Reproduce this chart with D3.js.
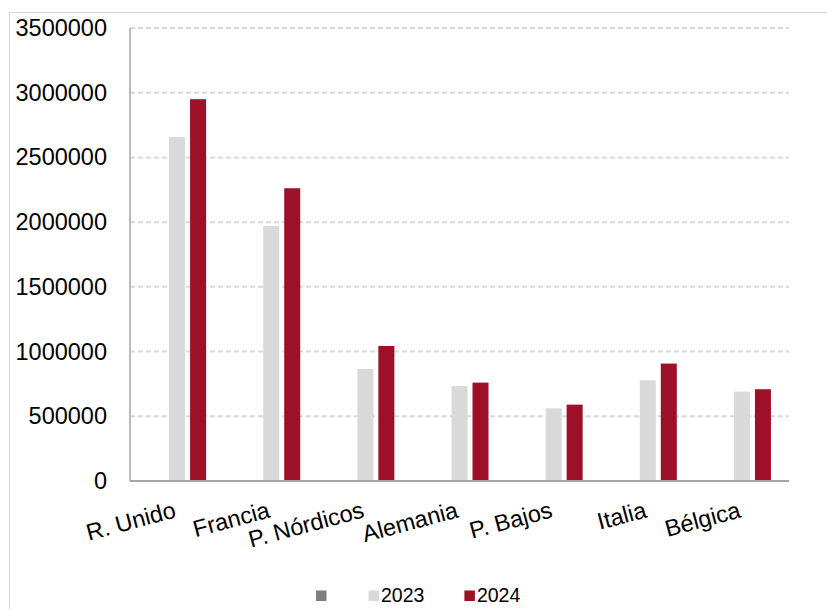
<!DOCTYPE html>
<html>
<head>
<meta charset="utf-8">
<script src="https://cdn.jsdelivr.net/npm/d3@7"></script>
<style>
  body { margin: 0; background: #fff; }
  text { font-family: "Liberation Sans", Arial, sans-serif; fill: #000; }
</style>
</head>
<body>
<div id="root"></div>
<script>
var categories = ['R. Unido', 'Francia', 'P. Nórdicos', 'Alemania', 'P. Bajos', 'Italia', 'Bélgica'];
var seriesNames = ['', '2023', '2024'];
var valuesBlank = [0, 0, 0, 0, 0, 0, 0];
var values2023 = [2658000, 1970000, 866000, 734000, 562000, 778000, 690000];
var values2024 = [2950000, 2262000, 1043000, 760000, 590000, 907000, 709000];
var yTicks = [0, 500000, 1000000, 1500000, 2000000, 2500000, 3000000, 3500000];
var colors = ['#7f7f7f', '#d9d9d9', '#9e1027'];

var width = 827;
var height = 609;
// plot area (note: "top" is reserved on window, so use prefixed names)
var plotLeft = 130, plotRight = 789, plotTop = 28, plotBottom = 481;

var svg = d3.select('#root')
  .append('svg')
    .attr('width', width)
    .attr('height', height);

// chart frame
svg.append('rect')
  .attr('x', 9.5)
  .attr('y', 12.5)
  .attr('width', 840)
  .attr('height', 640)
  .attr('fill', 'none')
  .attr('stroke', '#d9d9d9')
  .attr('stroke-width', 1);

var x = d3.scaleBand()
  .domain(categories)
  .range([plotLeft, plotRight]);

var xInner = d3.scaleBand()
  .domain(seriesNames)
  .range([0, x.bandwidth()])
  .paddingInner(0.238)
  .paddingOuter(0.86);

var y = d3.scaleLinear()
  .domain([0, 3500000])
  .range([plotBottom, plotTop]);

// dashed gridlines
svg.append('g')
  .selectAll('line')
  .data(yTicks.slice(1))
  .enter()
  .append('line')
    .attr('x1', plotLeft)
    .attr('x2', plotRight)
    .attr('y1', function(d) { return y(d); })
    .attr('y2', function(d) { return y(d); })
    .attr('stroke', '#d9d9d9')
    .attr('stroke-width', 2)
    .attr('stroke-dasharray', '5,3');

// y tick labels
var yAxis = svg.append('g')
  .attr('transform', 'translate(' + plotLeft + ',0)')
  .call(d3.axisLeft(y).tickValues(yTicks).tickSize(0).tickPadding(23)
    .tickFormat(function(d) { return String(d); }));
yAxis.select('.domain').remove();
yAxis.selectAll('text')
  .attr('font-size', '23.5px')
  .attr('font-family', '"Liberation Sans", Arial, sans-serif')
  .attr('fill', '#000');

// bars
var seriesData = [valuesBlank, values2023, values2024];
var bars = [];
seriesData.forEach(function(vals, s) {
  vals.forEach(function(v, i) {
    bars.push({ cat: categories[i], series: seriesNames[s], value: v, color: colors[s] });
  });
});

svg.append('g')
  .selectAll('rect')
  .data(bars.filter(function(d) { return d.value > 0; }))
  .enter()
  .append('rect')
    .attr('x', function(d) { return x(d.cat) + xInner(d.series); })
    .attr('y', function(d) { return y(d.value); })
    .attr('width', xInner.bandwidth())
    .attr('height', function(d) { return y(0) - y(d.value); })
    .attr('fill', function(d) { return d.color; });

// axis lines
svg.append('line')
  .attr('x1', plotLeft).attr('x2', plotLeft)
  .attr('y1', plotTop).attr('y2', plotBottom)
  .attr('stroke', '#a6a6a6')
  .attr('stroke-width', 1.5);

svg.append('line')
  .attr('x1', plotLeft).attr('x2', plotRight)
  .attr('y1', plotBottom).attr('y2', plotBottom)
  .attr('stroke', '#a6a6a6')
  .attr('stroke-width', 2);

// rotated category labels
svg.append('g')
  .selectAll('text')
  .data(categories)
  .enter()
  .append('text')
    .attr('transform', function(d) {
      return 'translate(' + (x(d) + x.bandwidth() / 2) + ',517) rotate(-15)';
    })
    .attr('text-anchor', 'end')
    .attr('font-size', '23.5px')
    .text(function(d) { return d; });

// legend
var legend = svg.append('g');
var lx = 316;
seriesNames.forEach(function(name, i) {
  legend.append('rect')
    .attr('x', lx)
    .attr('y', 590.5)
    .attr('width', 10.5)
    .attr('height', 10.5)
    .attr('fill', colors[i]);
  var t = legend.append('text')
    .attr('x', lx + 12.5)
    .attr('y', 602)
    .attr('font-size', '19.5px')
    .text(name);
  var w = name ? t.node().getComputedTextLength() : 0;
  lx += 12.5 + w + 40;
});
</script>
</body>
</html>
